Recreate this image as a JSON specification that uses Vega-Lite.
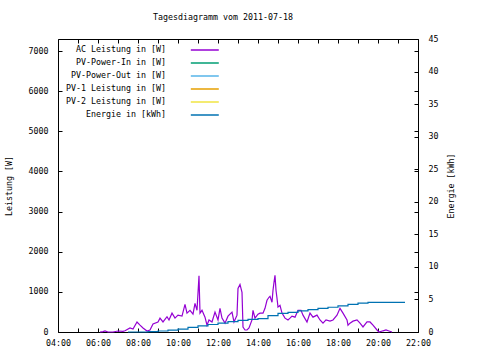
{
  "$schema": "https://vega.github.io/schema/vega-lite/v6.json",
  "autosize": "none",
  "width": 360,
  "height": 293,
  "padding": {"left": 58, "top": 39, "right": 62, "bottom": 28},
  "background": "white",
  "title": {"text": "Tagesdiagramm vom 2011-07-18", "font": "DejaVu Sans Mono", "fontSize": 8.3, "fontWeight": "normal", "color": "black", "anchor": "middle", "offset": 13, "dx": -15},
  "config": {
    "view": {"stroke": "black", "strokeWidth": 1},
    "axis": {"labelFont": "DejaVu Sans Mono", "labelFontSize": 8.3, "labelColor": "black", "titleFont": "DejaVu Sans Mono", "titleFontSize": 8.3, "titleFontWeight": "normal", "titleColor": "black", "tickColor": "black", "domain": false, "grid": false, "tickSize": -4, "labelPadding": 14},
    "legend": {"labelFont": "DejaVu Sans Mono", "labelFontSize": 8.3, "labelColor": "black"}
  },
  "datasets": {
    "ac": [
      {"hour": 6.1, "W": 0, "series": "AC Leistung in [W]"},
      {"hour": 6.25, "W": 10, "series": "AC Leistung in [W]"},
      {"hour": 6.35, "W": 25, "series": "AC Leistung in [W]"},
      {"hour": 6.5, "W": 0, "series": "AC Leistung in [W]"},
      {"hour": 6.75, "W": 0, "series": "AC Leistung in [W]"},
      {"hour": 7.0, "W": 25, "series": "AC Leistung in [W]"},
      {"hour": 7.25, "W": 15, "series": "AC Leistung in [W]"},
      {"hour": 7.35, "W": 30, "series": "AC Leistung in [W]"},
      {"hour": 7.6, "W": 100, "series": "AC Leistung in [W]"},
      {"hour": 7.75, "W": 75, "series": "AC Leistung in [W]"},
      {"hour": 7.95, "W": 250, "series": "AC Leistung in [W]"},
      {"hour": 8.1, "W": 170, "series": "AC Leistung in [W]"},
      {"hour": 8.25, "W": 100, "series": "AC Leistung in [W]"},
      {"hour": 8.45, "W": 25, "series": "AC Leistung in [W]"},
      {"hour": 8.6, "W": 50, "series": "AC Leistung in [W]"},
      {"hour": 8.75, "W": 200, "series": "AC Leistung in [W]"},
      {"hour": 9.0, "W": 250, "series": "AC Leistung in [W]"},
      {"hour": 9.1, "W": 345, "series": "AC Leistung in [W]"},
      {"hour": 9.25, "W": 250, "series": "AC Leistung in [W]"},
      {"hour": 9.45, "W": 380, "series": "AC Leistung in [W]"},
      {"hour": 9.55, "W": 300, "series": "AC Leistung in [W]"},
      {"hour": 9.7, "W": 470, "series": "AC Leistung in [W]"},
      {"hour": 9.85, "W": 345, "series": "AC Leistung in [W]"},
      {"hour": 10.0, "W": 420, "series": "AC Leistung in [W]"},
      {"hour": 10.2, "W": 395, "series": "AC Leistung in [W]"},
      {"hour": 10.35, "W": 690, "series": "AC Leistung in [W]"},
      {"hour": 10.45, "W": 470, "series": "AC Leistung in [W]"},
      {"hour": 10.6, "W": 540, "series": "AC Leistung in [W]"},
      {"hour": 10.75, "W": 445, "series": "AC Leistung in [W]"},
      {"hour": 10.85, "W": 715, "series": "AC Leistung in [W]"},
      {"hour": 10.95, "W": 540, "series": "AC Leistung in [W]"},
      {"hour": 11.05, "W": 1400, "series": "AC Leistung in [W]"},
      {"hour": 11.1, "W": 470, "series": "AC Leistung in [W]"},
      {"hour": 11.2, "W": 540, "series": "AC Leistung in [W]"},
      {"hour": 11.35, "W": 370, "series": "AC Leistung in [W]"},
      {"hour": 11.45, "W": 170, "series": "AC Leistung in [W]"},
      {"hour": 11.55, "W": 300, "series": "AC Leistung in [W]"},
      {"hour": 11.7, "W": 250, "series": "AC Leistung in [W]"},
      {"hour": 11.85, "W": 495, "series": "AC Leistung in [W]"},
      {"hour": 12.0, "W": 300, "series": "AC Leistung in [W]"},
      {"hour": 12.1, "W": 590, "series": "AC Leistung in [W]"},
      {"hour": 12.2, "W": 345, "series": "AC Leistung in [W]"},
      {"hour": 12.35, "W": 220, "series": "AC Leistung in [W]"},
      {"hour": 12.5, "W": 395, "series": "AC Leistung in [W]"},
      {"hour": 12.7, "W": 495, "series": "AC Leistung in [W]"},
      {"hour": 12.8, "W": 250, "series": "AC Leistung in [W]"},
      {"hour": 12.95, "W": 420, "series": "AC Leistung in [W]"},
      {"hour": 13.0, "W": 1085, "series": "AC Leistung in [W]"},
      {"hour": 13.1, "W": 1185, "series": "AC Leistung in [W]"},
      {"hour": 13.2, "W": 990, "series": "AC Leistung in [W]"},
      {"hour": 13.25, "W": 125, "series": "AC Leistung in [W]"},
      {"hour": 13.35, "W": 50, "series": "AC Leistung in [W]"},
      {"hour": 13.45, "W": 50, "series": "AC Leistung in [W]"},
      {"hour": 13.55, "W": 100, "series": "AC Leistung in [W]"},
      {"hour": 13.7, "W": 300, "series": "AC Leistung in [W]"},
      {"hour": 13.75, "W": 540, "series": "AC Leistung in [W]"},
      {"hour": 13.85, "W": 345, "series": "AC Leistung in [W]"},
      {"hour": 14.0, "W": 445, "series": "AC Leistung in [W]"},
      {"hour": 14.1, "W": 470, "series": "AC Leistung in [W]"},
      {"hour": 14.25, "W": 470, "series": "AC Leistung in [W]"},
      {"hour": 14.35, "W": 590, "series": "AC Leistung in [W]"},
      {"hour": 14.45, "W": 790, "series": "AC Leistung in [W]"},
      {"hour": 14.55, "W": 865, "series": "AC Leistung in [W]"},
      {"hour": 14.6, "W": 890, "series": "AC Leistung in [W]"},
      {"hour": 14.7, "W": 740, "series": "AC Leistung in [W]"},
      {"hour": 14.75, "W": 1040, "series": "AC Leistung in [W]"},
      {"hour": 14.8, "W": 1235, "series": "AC Leistung in [W]"},
      {"hour": 14.85, "W": 1410, "series": "AC Leistung in [W]"},
      {"hour": 14.9, "W": 1040, "series": "AC Leistung in [W]"},
      {"hour": 14.95, "W": 840, "series": "AC Leistung in [W]"},
      {"hour": 15.0, "W": 620, "series": "AC Leistung in [W]"},
      {"hour": 15.1, "W": 665, "series": "AC Leistung in [W]"},
      {"hour": 15.2, "W": 470, "series": "AC Leistung in [W]"},
      {"hour": 15.35, "W": 345, "series": "AC Leistung in [W]"},
      {"hour": 15.5, "W": 300, "series": "AC Leistung in [W]"},
      {"hour": 15.6, "W": 345, "series": "AC Leistung in [W]"},
      {"hour": 15.7, "W": 395, "series": "AC Leistung in [W]"},
      {"hour": 15.85, "W": 370, "series": "AC Leistung in [W]"},
      {"hour": 16.0, "W": 540, "series": "AC Leistung in [W]"},
      {"hour": 16.15, "W": 540, "series": "AC Leistung in [W]"},
      {"hour": 16.25, "W": 420, "series": "AC Leistung in [W]"},
      {"hour": 16.45, "W": 250, "series": "AC Leistung in [W]"},
      {"hour": 16.6, "W": 470, "series": "AC Leistung in [W]"},
      {"hour": 16.75, "W": 370, "series": "AC Leistung in [W]"},
      {"hour": 16.95, "W": 420, "series": "AC Leistung in [W]"},
      {"hour": 17.1, "W": 300, "series": "AC Leistung in [W]"},
      {"hour": 17.25, "W": 220, "series": "AC Leistung in [W]"},
      {"hour": 17.4, "W": 300, "series": "AC Leistung in [W]"},
      {"hour": 17.6, "W": 270, "series": "AC Leistung in [W]"},
      {"hour": 17.75, "W": 300, "series": "AC Leistung in [W]"},
      {"hour": 17.95, "W": 420, "series": "AC Leistung in [W]"},
      {"hour": 18.1, "W": 590, "series": "AC Leistung in [W]"},
      {"hour": 18.25, "W": 470, "series": "AC Leistung in [W]"},
      {"hour": 18.45, "W": 300, "series": "AC Leistung in [W]"},
      {"hour": 18.5, "W": 170, "series": "AC Leistung in [W]"},
      {"hour": 18.6, "W": 220, "series": "AC Leistung in [W]"},
      {"hour": 18.75, "W": 270, "series": "AC Leistung in [W]"},
      {"hour": 18.95, "W": 300, "series": "AC Leistung in [W]"},
      {"hour": 19.1, "W": 220, "series": "AC Leistung in [W]"},
      {"hour": 19.25, "W": 125, "series": "AC Leistung in [W]"},
      {"hour": 19.45, "W": 250, "series": "AC Leistung in [W]"},
      {"hour": 19.6, "W": 250, "series": "AC Leistung in [W]"},
      {"hour": 19.75, "W": 170, "series": "AC Leistung in [W]"},
      {"hour": 19.95, "W": 50, "series": "AC Leistung in [W]"},
      {"hour": 20.05, "W": 0, "series": "AC Leistung in [W]"},
      {"hour": 20.25, "W": 30, "series": "AC Leistung in [W]"},
      {"hour": 20.4, "W": 50, "series": "AC Leistung in [W]"},
      {"hour": 20.55, "W": 25, "series": "AC Leistung in [W]"},
      {"hour": 20.7, "W": 0, "series": "AC Leistung in [W]"}
    ],
    "energy": [
      {"hour": 7.5, "kWh": 0, "series": "Energie in [kWh]"},
      {"hour": 8.5, "kWh": 0.05, "series": "Energie in [kWh]"},
      {"hour": 9.0, "kWh": 0.15, "series": "Energie in [kWh]"},
      {"hour": 9.5, "kWh": 0.3, "series": "Energie in [kWh]"},
      {"hour": 10.0, "kWh": 0.45, "series": "Energie in [kWh]"},
      {"hour": 10.5, "kWh": 0.7, "series": "Energie in [kWh]"},
      {"hour": 11.0, "kWh": 0.95, "series": "Energie in [kWh]"},
      {"hour": 11.5, "kWh": 1.15, "series": "Energie in [kWh]"},
      {"hour": 12.0, "kWh": 1.35, "series": "Energie in [kWh]"},
      {"hour": 12.5, "kWh": 1.6, "series": "Energie in [kWh]"},
      {"hour": 13.0, "kWh": 1.8, "series": "Energie in [kWh]"},
      {"hour": 13.5, "kWh": 1.95, "series": "Energie in [kWh]"},
      {"hour": 14.0, "kWh": 2.05, "series": "Energie in [kWh]"},
      {"hour": 14.5, "kWh": 2.5, "series": "Energie in [kWh]"},
      {"hour": 15.0, "kWh": 2.85, "series": "Energie in [kWh]"},
      {"hour": 15.5, "kWh": 3.0, "series": "Energie in [kWh]"},
      {"hour": 16.0, "kWh": 3.25, "series": "Energie in [kWh]"},
      {"hour": 16.5, "kWh": 3.45, "series": "Energie in [kWh]"},
      {"hour": 17.0, "kWh": 3.62, "series": "Energie in [kWh]"},
      {"hour": 17.5, "kWh": 3.8, "series": "Energie in [kWh]"},
      {"hour": 18.0, "kWh": 4.0, "series": "Energie in [kWh]"},
      {"hour": 18.5, "kWh": 4.25, "series": "Energie in [kWh]"},
      {"hour": 19.0, "kWh": 4.45, "series": "Energie in [kWh]"},
      {"hour": 19.5, "kWh": 4.56, "series": "Energie in [kWh]"},
      {"hour": 21.35, "kWh": 4.56, "series": "Energie in [kWh]"}
    ]
  },
  "layer": [
    {
      "layer": [
        {
          "data": {"name": "ac"},
          "mark": {"type": "line", "strokeWidth": 1.2, "interpolate": "linear"},
          "encoding": {
            "x": {"field": "hour", "type": "quantitative", "scale": {"domain": [4, 22], "nice": false, "zero": false},
                  "axis": {"orient": "bottom", "title": null, "values": [4,5,6,7,8,9,10,11,12,13,14,15,16,17,18,19,20,21,22],
                           "labelExpr": "datum.value % 2 == 0 ? (datum.value < 10 ? '0' : '') + datum.value + ':00' : ''", "labelPadding": 10, "labelFlush": false, "labelOverlap": false}},
            "y": {"field": "W", "type": "quantitative", "scale": {"domain": [0, 7300], "nice": false},
                  "axis": {"orient": "left", "title": "Leistung [W]", "format": "d", "titlePadding": 15, "values": [0,1000,2000,3000,4000,5000,6000,7000], "labelFlush": false, "labelOverlap": false}},
            "color": {"field": "series", "type": "nominal",
                      "scale": {"domain": ["AC Leistung in [W]", "PV-Power-In in [W]", "PV-Power-Out in [W]", "PV-1 Leistung in [W]", "PV-2 Leistung in [W]", "Energie in [kWh]"],
                                "range": ["#9400d3", "#009e73", "#56b4e9", "#e69f00", "#f0e442", "#0072b2"]},
                      "legend": {"title": null, "orient": "none", "legendX": 141.3, "legendY": 5.5, "symbolType": "M-3,0H3", "symbolSize": 87, "symbolStrokeWidth": 1.5, "labelAlign": "right", "labelOffset": -44.3, "rowPadding": 4, "padding": 0}}
          }
        },
        {
          "data": {"name": "ac"},
          "mark": {"type": "line", "strokeOpacity": 0},
          "encoding": {
            "x": {"field": "hour", "type": "quantitative",
                  "axis": {"orient": "top", "title": null, "labels": false, "values": [4,5,6,7,8,9,10,11,12,13,14,15,16,17,18,19,20,21,22]}},
            "y": {"field": "W", "type": "quantitative",
                  "axis": {"orient": "right", "title": null, "labels": false, "values": [0,1000,2000,3000,4000,5000,6000,7000]}}
          }
        }
      ],
      "resolve": {"axis": {"x": "independent", "y": "independent"}}
    },
    {
      "data": {"name": "energy"},
      "mark": {"type": "line", "strokeWidth": 1.2, "interpolate": "step-after"},
      "encoding": {
        "x": {"field": "hour", "type": "quantitative", "axis": null},
        "y": {"field": "kWh", "type": "quantitative", "scale": {"domain": [0, 45], "nice": false},
              "axis": {"orient": "right", "title": "Energie [kWh]", "titleAngle": 270, "titlePadding": 18, "values": [0,5,10,15,20,25,30,35,40,45], "labelAlign": "left", "labelFlush": false, "labelOverlap": false}},
        "color": {"field": "series", "type": "nominal"}
      }
    }
  ],
  "resolve": {"scale": {"y": "independent"}, "axis": {"x": "independent"}}
}
